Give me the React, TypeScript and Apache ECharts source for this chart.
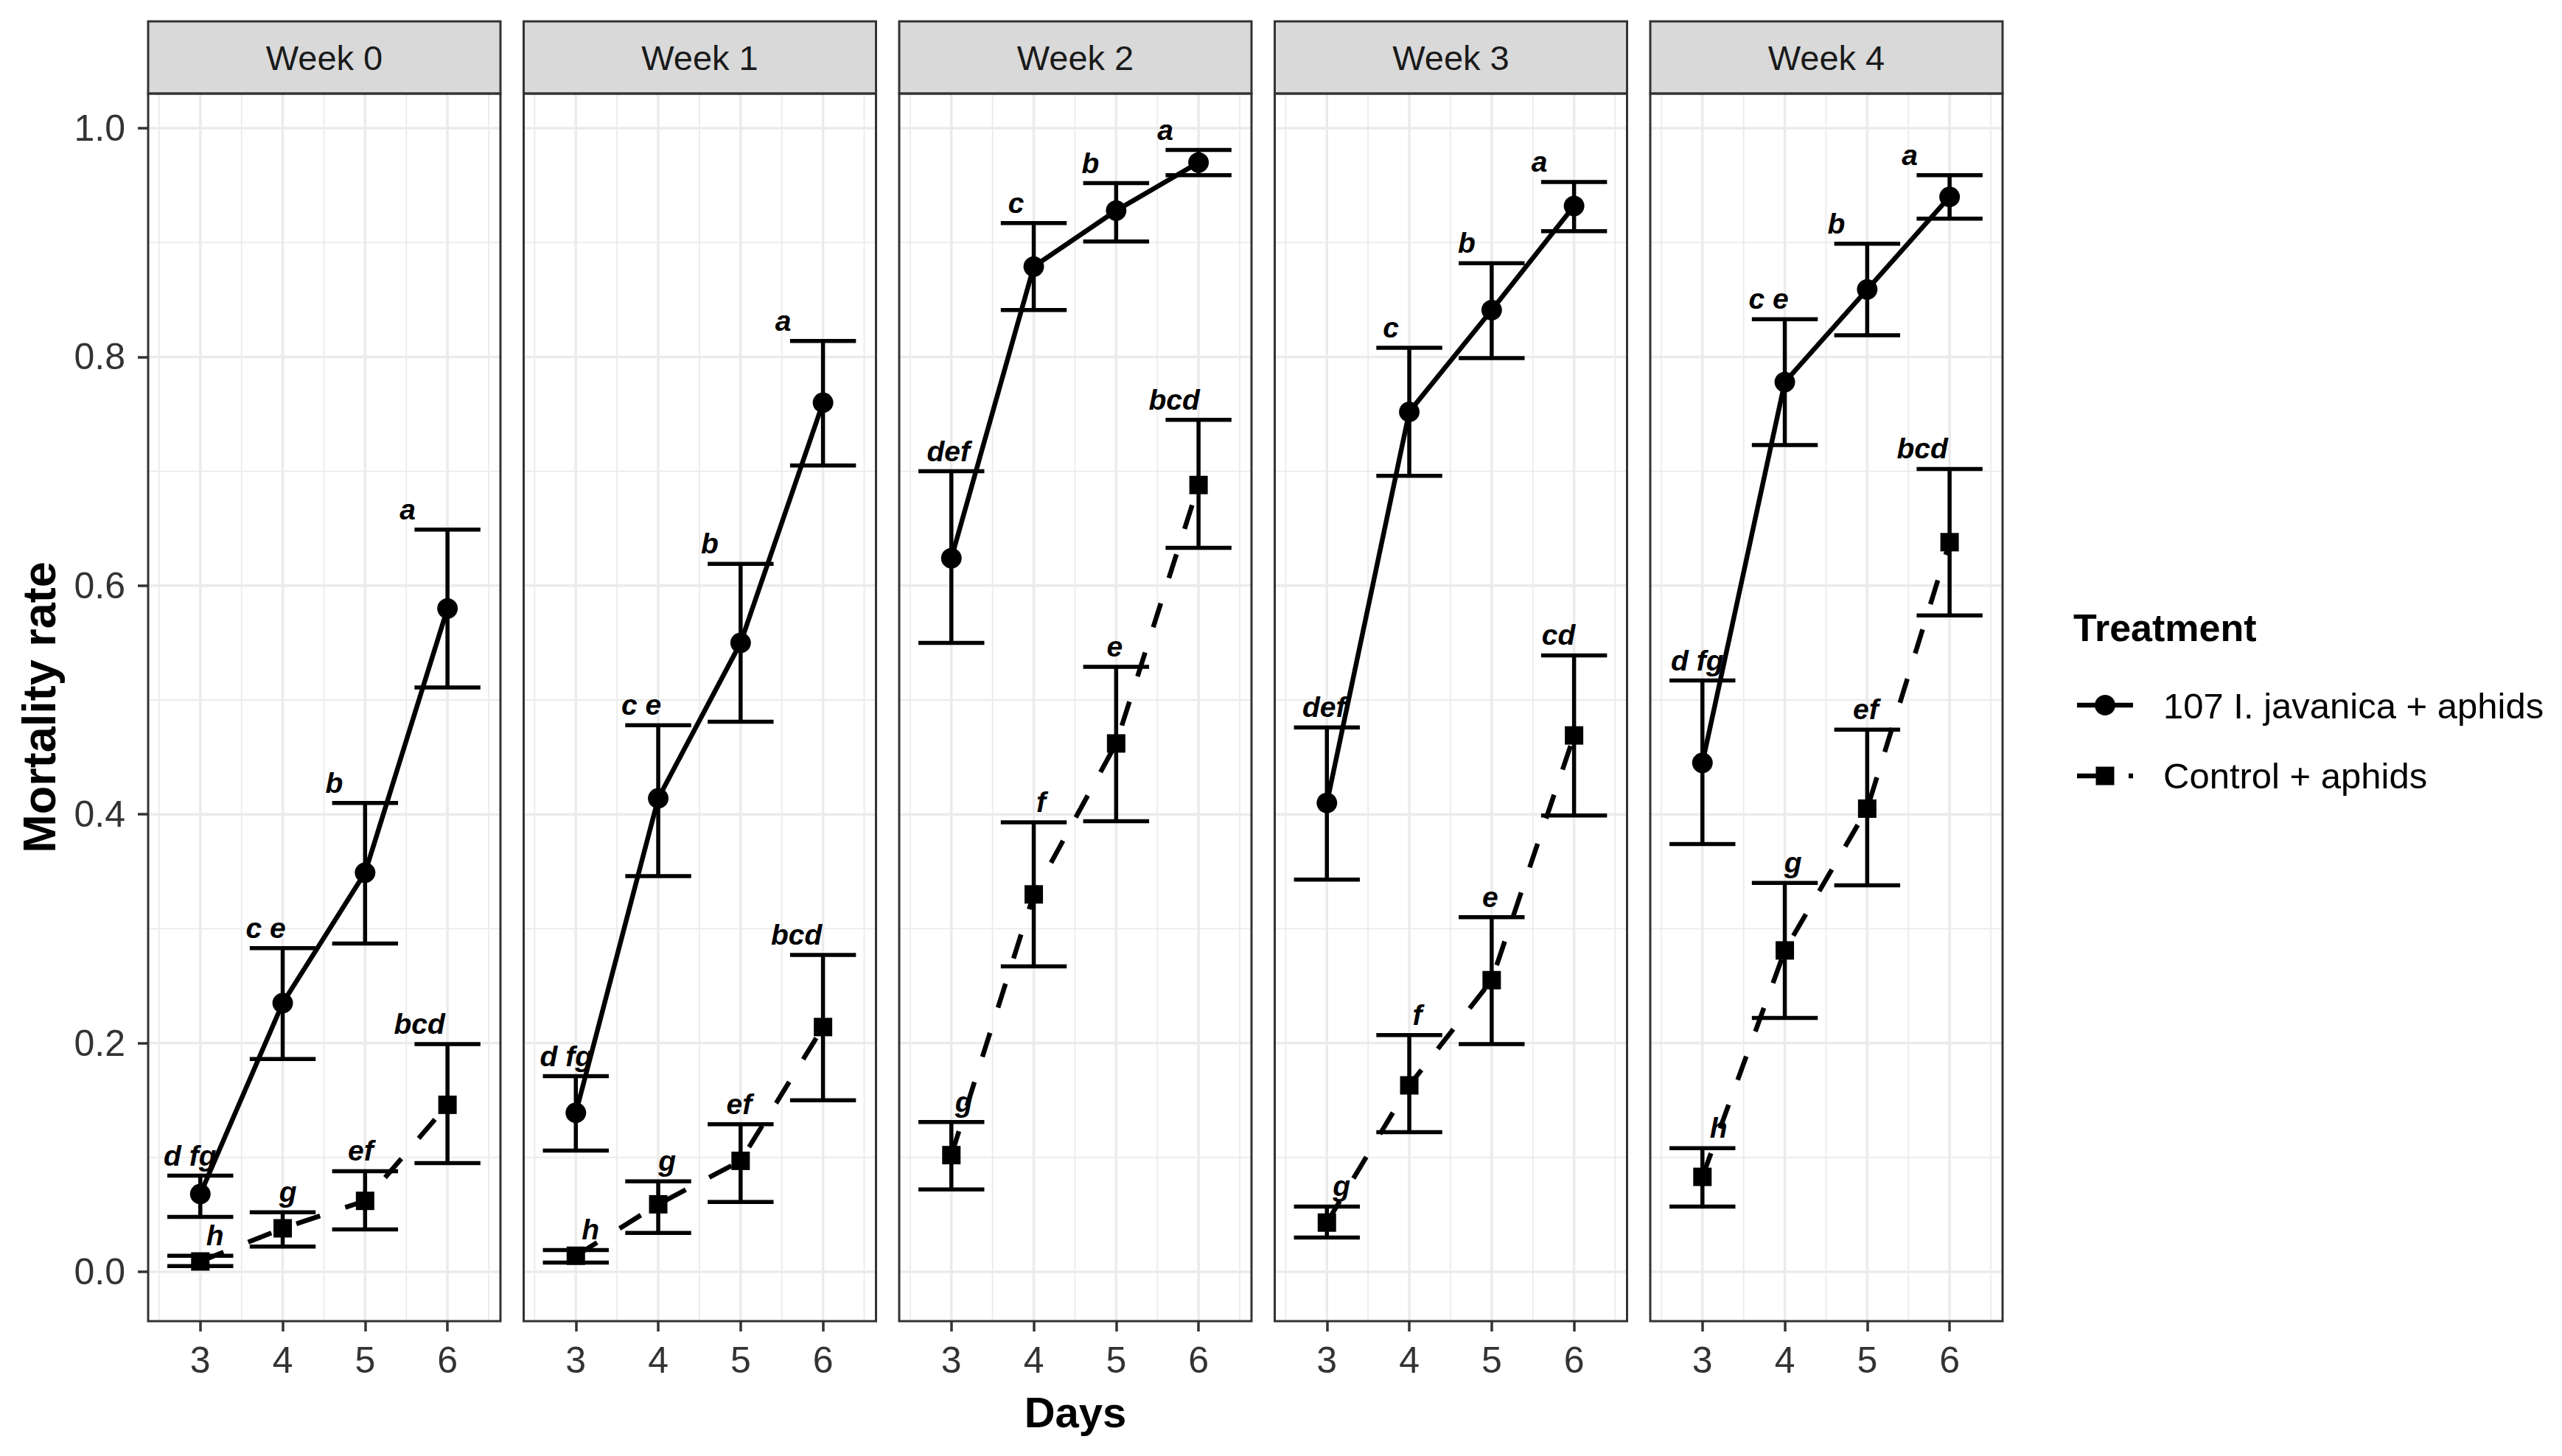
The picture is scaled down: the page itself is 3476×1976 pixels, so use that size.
import React, { useEffect, useRef } from "react";
import * as echarts from "echarts";

// ---------------- data ----------------
const weeks = ["Week 0", "Week 1", "Week 2", "Week 3", "Week 4"];
const days = [3, 4, 5, 6];
const seriesNames = ["107 I. javanica + aphids", "Control + aphids"];

const infMean = [
  [0.068, 0.235, 0.349, 0.58],
  [0.139, 0.414, 0.55, 0.76],
  [0.624, 0.879, 0.928, 0.97],
  [0.41, 0.752, 0.841, 0.932],
  [0.445, 0.778, 0.859, 0.94],
];
const infUpper = [
  [0.084, 0.283, 0.41, 0.649],
  [0.171, 0.478, 0.619, 0.814],
  [0.7, 0.917, 0.952, 0.981],
  [0.476, 0.808, 0.882, 0.953],
  [0.517, 0.833, 0.899, 0.959],
];
const infLower = [
  [0.048, 0.186, 0.287, 0.511],
  [0.106, 0.346, 0.481, 0.705],
  [0.55, 0.841, 0.901, 0.959],
  [0.343, 0.696, 0.799, 0.91],
  [0.374, 0.723, 0.819, 0.921],
];
const ctrlMean = [
  [0.009, 0.038, 0.062, 0.146],
  [0.014, 0.059, 0.097, 0.214],
  [0.102, 0.33, 0.462, 0.688],
  [0.043, 0.163, 0.255, 0.469],
  [0.083, 0.281, 0.405, 0.638],
];
const ctrlUpper = [
  [0.014, 0.052, 0.088, 0.199],
  [0.019, 0.079, 0.129, 0.277],
  [0.131, 0.393, 0.529, 0.745],
  [0.057, 0.207, 0.31, 0.539],
  [0.108, 0.34, 0.474, 0.702],
];
const ctrlLower = [
  [0.005, 0.022, 0.037, 0.095],
  [0.008, 0.034, 0.061, 0.15],
  [0.072, 0.267, 0.394, 0.633],
  [0.03, 0.122, 0.199, 0.399],
  [0.057, 0.222, 0.338, 0.574],
];
const infLetters = [
  ["d fg", "c e", "b", "a"],
  ["d fg", "c e", "b", "a"],
  ["def", "c", "b", "a"],
  ["def", "c", "b", "a"],
  ["d fg", "c e", "b", "a"],
];
const ctrlLetters = [
  ["h", "g", "ef", "bcd"],
  ["h", "g", "ef", "bcd"],
  ["g", "f", "e", "bcd"],
  ["g", "f", "e", "cd"],
  ["h", "g", "ef", "bcd"],
];

const xTicks = [3, 4, 5, 6];
const xMinorTicks = [2.5, 3.5, 4.5, 5.5, 6.5];
const yTicks = [0, 0.2, 0.4, 0.6, 0.8, 1.0];
const yMinorTicks = [0.1, 0.3, 0.5, 0.7, 0.9];

// horizontal nudges of the letter labels (px), relative to their point
const infNudge = [
  [-14, -23, -42, -54],
  [-13, -23, -42, -54],
  [-4, -24, -35, -45],
  [-4, -25, -34, -47],
  [-7, -22, -42, -54],
];
const ctrlNudge = [
  [20, 7, -6, -38],
  [20, 12, -2, -36],
  [17, 10, -2, -33],
  [20, 11, -2, -21],
  [22, 11, -2, -37],
];

// ---------------- layout ----------------
const W = 3476;
const H = 1976;
const PANEL_LEFT0 = 201;
const PANEL_STEP = 509.5;
const PANEL_W = 478;
const PANEL_TOP = 127;
const PANEL_H = 1666;
const STRIP_TOP = 29;
const X_MIN = 2.367;
const X_MAX = 6.643;
const Y_MIN = -0.0432;
const Y_MAX = 1.0303;
const CAP_HALF = 0.4;
const FONT = '"Liberation Sans", Arial, Helvetica, sans-serif';
const BORDER = "#333333";
const GRIDC = "#EBEBEB";

const panelLeft = (i: number) => PANEL_LEFT0 + PANEL_STEP * i;

function buildOption() {
  const grids: any[] = [];
  const xAxes: any[] = [];
  const yAxes: any[] = [];
  const series: any[] = [];
  const graphics: any[] = [];

  weeks.forEach((wk, i) => {
    grids.push({
      left: panelLeft(i),
      top: PANEL_TOP,
      width: PANEL_W,
      height: PANEL_H,
      show: false,
      containLabel: false,
      outerBoundsMode: "none",
    });
    xAxes.push({
      gridIndex: i,
      type: "value",
      min: X_MIN,
      max: X_MAX,
      axisLine: { show: false, onZero: false },
      axisTick: {
        show: true,
        customValues: xTicks,
        length: 14,
        lineStyle: { color: BORDER, width: 3.5 },
      },
      axisLabel: {
        show: true,
        customValues: xTicks,
        margin: 28,
        fontSize: 50,
        color: "#333333",
        fontFamily: FONT,
      },
      splitLine: { show: false },
      ...(i === 2
        ? {
            name: "Days",
            nameLocation: "middle",
            nameGap: 94,
            nameTextStyle: { fontSize: 58, fontWeight: "bold", color: "#000", fontFamily: FONT },
          }
        : {}),
    });
    yAxes.push({
      gridIndex: i,
      type: "value",
      min: Y_MIN,
      max: Y_MAX,
      axisLine: { show: false, onZero: false },
      axisTick: {
        show: i === 0,
        customValues: yTicks,
        length: 14,
        lineStyle: { color: BORDER, width: 3.5 },
      },
      axisLabel: {
        show: i === 0,
        customValues: yTicks,
        margin: 31,
        fontSize: 50,
        color: "#333333",
        fontFamily: FONT,
        formatter: (v: number) => v.toFixed(1),
      },
      splitLine: { show: false },
      ...(i === 0
        ? {
            name: "Mortality rate",
            nameLocation: "middle",
            nameGap: 117,
            nameTextStyle: { fontSize: 63, fontWeight: "bold", color: "#000", fontFamily: FONT },
          }
        : {}),
    });

    // grid lines (minor first, then major)
    const gridData = [
      ...xMinorTicks.map((v) => [0, v, 0]),
      ...yMinorTicks.map((v) => [1, v, 0]),
      ...xTicks.map((v) => [0, v, 1]),
      ...yTicks.map((v) => [1, v, 1]),
    ];
    series.push({
      type: "custom",
      name: "grid-" + i,
      xAxisIndex: i,
      yAxisIndex: i,
      silent: true,
      z: 1,
      clip: true,
      data: gridData,
      renderItem: (params: any, api: any) => {
        const orient = api.value(0);
        const v = api.value(1);
        const major = api.value(2);
        const a = orient === 0 ? api.coord([v, Y_MIN]) : api.coord([X_MIN, v]);
        const b = orient === 0 ? api.coord([v, Y_MAX]) : api.coord([X_MAX, v]);
        return {
          type: "line",
          shape: { x1: a[0], y1: a[1], x2: b[0], y2: b[1] },
          style: { stroke: GRIDC, lineWidth: major ? 3.5 : 1.8 },
        };
      },
    });

    const groups = [
      { name: seriesNames[0], mean: infMean[i], up: infUpper[i], lo: infLower[i], letters: infLetters[i], nudge: infNudge[i], symbol: "circle", size: 28, dash: "solid" as any },
      { name: seriesNames[1], mean: ctrlMean[i], up: ctrlUpper[i], lo: ctrlLower[i], letters: ctrlLetters[i], nudge: ctrlNudge[i], symbol: "rect", size: 25, dash: [34, 36] as any },
    ];

    groups.forEach((g) => {
      // error bars
      series.push({
        type: "custom",
        name: g.name + " SE",
        xAxisIndex: i,
        yAxisIndex: i,
        silent: true,
        z: 3,
        data: days.map((d, j) => [d, g.lo[j], g.up[j]]),
        encode: { x: 0, y: [1, 2] },
        renderItem: (params: any, api: any) => {
          const x = api.value(0);
          const lo = api.value(1);
          const hi = api.value(2);
          const t = api.coord([x, hi]);
          const b = api.coord([x, lo]);
          const l = api.coord([x - CAP_HALF, hi])[0];
          const r = api.coord([x + CAP_HALF, hi])[0];
          const st = { stroke: "#000", lineWidth: 5.5 };
          return {
            type: "group",
            children: [
              { type: "line", shape: { x1: t[0], y1: t[1], x2: b[0], y2: b[1] }, style: st },
              { type: "line", shape: { x1: l, y1: t[1], x2: r, y2: t[1] }, style: st },
              { type: "line", shape: { x1: l, y1: b[1], x2: r, y2: b[1] }, style: st },
            ],
          };
        },
      });
      // means + lines
      series.push({
        type: "line",
        name: g.name,
        xAxisIndex: i,
        yAxisIndex: i,
        z: 4,
        silent: true,
        data: days.map((d, j) => [d, g.mean[j]]),
        symbol: g.symbol,
        symbolSize: g.size,
        showAllSymbol: true,
        itemStyle: { color: "#000", borderWidth: 0 },
        lineStyle: { color: "#000", width: 6.5, type: g.dash },
      });
      // letters
      series.push({
        type: "custom",
        name: g.name + " letters",
        xAxisIndex: i,
        yAxisIndex: i,
        silent: true,
        z: 5,
        data: days.map((d, j) => [d, g.up[j]]),
        renderItem: (params: any, api: any) => {
          const j = params.dataIndex;
          const p = api.coord([api.value(0), api.value(1)]);
          return {
            type: "text",
            x: p[0] + g.nudge[j],
            y: p[1] - 8,
            style: {
              text: g.letters[j],
              font: `italic bold 39px ${FONT}`,
              fill: "#000",
              textAlign: "center",
              textVerticalAlign: "bottom",
              align: "center",
              verticalAlign: "bottom",
            },
          };
        },
      });
    });

    // strip
    graphics.push({
      type: "rect",
      shape: { x: panelLeft(i), y: STRIP_TOP, width: PANEL_W, height: PANEL_TOP - STRIP_TOP },
      style: { fill: "#D9D9D9", stroke: BORDER, lineWidth: 3 },
      z: 90,
    });
    graphics.push({
      type: "text",
      x: panelLeft(i) + PANEL_W / 2,
      y: (STRIP_TOP + PANEL_TOP) / 2,
      style: {
        text: wk,
        font: `47px ${FONT}`,
        fill: "#1A1A1A",
        textAlign: "center",
        textVerticalAlign: "middle",
        align: "center",
        verticalAlign: "middle",
      },
      z: 91,
    });
    // panel border
    graphics.push({
      type: "rect",
      shape: { x: panelLeft(i), y: PANEL_TOP, width: PANEL_W, height: PANEL_H },
      style: { fill: "none", stroke: BORDER, lineWidth: 3 },
      z: 90,
    });
  });

  // legend
  const LX = 2818;
  const LTX = 2935;
  const L1 = 957;
  const L2 = 1053;
  graphics.push(
    {
      type: "text",
      x: 2813,
      y: 852,
      style: { text: "Treatment", font: `bold 52px ${FONT}`, fill: "#000", textAlign: "left", textVerticalAlign: "middle", align: "left", verticalAlign: "middle" },
      z: 95,
    },
    { type: "line", shape: { x1: LX, y1: L1, x2: LX + 76, y2: L1 }, style: { stroke: "#000", lineWidth: 6.5 }, z: 95 },
    { type: "circle", shape: { cx: LX + 38, cy: L1, r: 14 }, style: { fill: "#000" }, z: 96 },
    {
      type: "text",
      x: LTX,
      y: L1 + 1,
      style: { text: seriesNames[0], font: `49px ${FONT}`, fill: "#000", textAlign: "left", textVerticalAlign: "middle", align: "left", verticalAlign: "middle" },
      z: 95,
    },
    { type: "line", shape: { x1: LX, y1: L2, x2: LX + 76, y2: L2 }, style: { stroke: "#000", lineWidth: 6.5, lineDash: [35, 35] }, z: 95 },
    { type: "rect", shape: { x: LX + 38 - 12.5, y: L2 - 12.5, width: 25, height: 25 }, style: { fill: "#000" }, z: 96 },
    {
      type: "text",
      x: LTX,
      y: L2,
      style: { text: seriesNames[1], font: `49px ${FONT}`, fill: "#000", textAlign: "left", textVerticalAlign: "middle", align: "left", verticalAlign: "middle" },
      z: 95,
    }
  );

  return {
    animation: false,
    backgroundColor: "#FFFFFF",
    textStyle: { fontFamily: FONT },
    grid: grids,
    xAxis: xAxes,
    yAxis: yAxes,
    series,
    graphic: { elements: graphics },
  };
}

export default function App() {
  const ref = useRef<HTMLDivElement>(null);
  useEffect(() => {
    document.body.style.margin = "0";
    document.body.style.overflow = "hidden";
    const chart = echarts.init(ref.current as HTMLDivElement, null, { renderer: "svg", width: W, height: H });
    chart.setOption(buildOption() as any);
    return () => {
      chart.dispose();
    };
  }, []);
  return <div ref={ref} style={{ width: W, height: H }} />;
}
